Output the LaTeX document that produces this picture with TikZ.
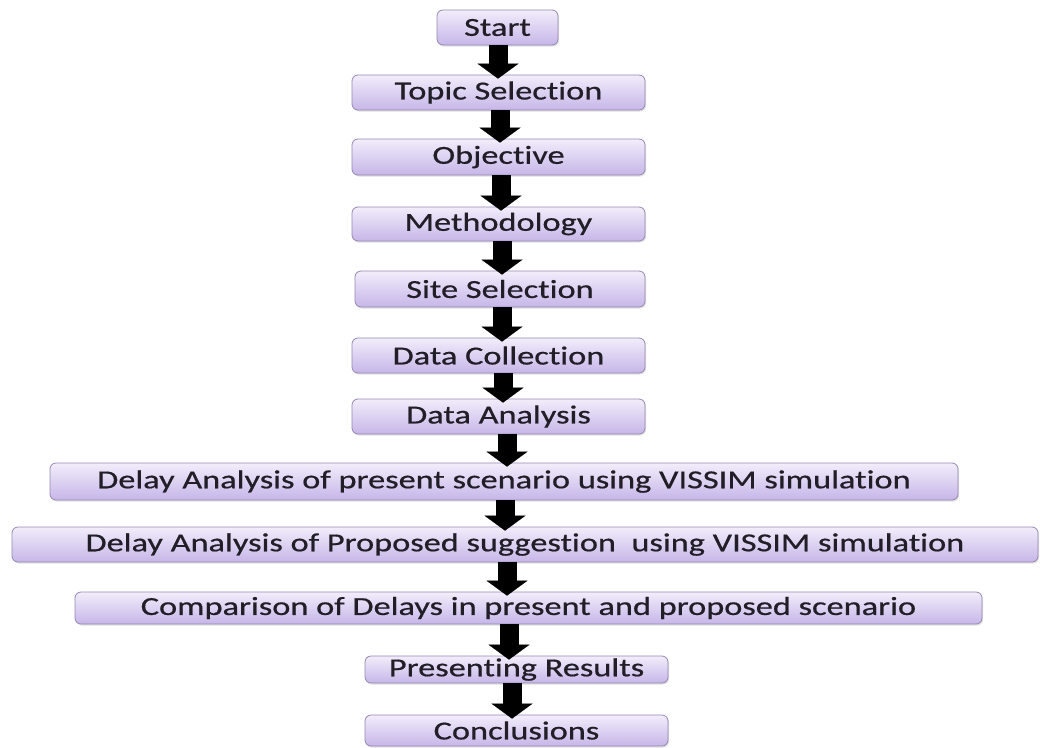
\documentclass[tikz,border=0pt]{standalone}
\usepackage{fontspec}
\setmainfont{Carlito}[FakeStretch=1.32,FakeBold=0.6,Ligatures={NoCommon}]
\usetikzlibrary{arrows.meta,shadows}

\definecolor{boxtop}{RGB}{242,237,251}
\definecolor{boxbot}{RGB}{198,182,232}
\definecolor{boxline}{RGB}{150,136,178}
\definecolor{boxtext}{RGB}{34,30,40}

\begin{document}
\begin{tikzpicture}[
  x=1pt, y=-1pt,
  every node/.style={font=\fontsize{26}{30}\selectfont, text=boxtext},
  stage/.style={rectangle,draw=boxline,line width=0.8pt,rounded corners=6pt,
    top color=boxtop,bottom color=boxbot,minimum width=293pt,minimum height=35pt,inner sep=0pt,
    drop shadow={opacity=0.25,shadow xshift=1pt,shadow yshift=-1.5pt}},
  wide/.style={stage,minimum width=908pt},
  flow/.style={line width=19pt,-{Triangle[width=41pt,length=15pt,line width=0.1pt]},shorten >=-4pt}
]
\useasboundingbox (0,0) rectangle (1040,747);

% Steps
\node[stage, minimum width=121pt] (start) at (497.5,27.5) {Start};
\node[stage] (topic) at (498.5,92.5) {Topic Selection};
\node[stage, minimum height=36pt] (obj) at (498.5,157) {Objective};
\node[stage, minimum height=34pt] (meth) at (498.5,224) {Methodology};
\node[stage, minimum width=290pt, minimum height=36pt] (site) at (500,289) {Site Selection};
\node[stage] (collect) at (498.5,355.5) {Data Collection};
\node[stage] (analysis) at (498.5,416.5) {Data Analysis};
\node[wide, minimum height=37pt] (present) at (504,481.5) {Delay Analysis of present scenario using VISSIM simulation};
\node[wide, minimum width=1026pt] (proposed) at (525,544.5) {Delay Analysis of Proposed suggestion~ using VISSIM simulation};
\node[wide, minimum width=907pt, minimum height=32pt] (compare) at (528.5,608) {Comparison of Delays in present and proposed scenario};
\node[stage, minimum width=303pt, minimum height=27pt] (results) at (516.5,669.5) {Presenting Results};
\node[stage, minimum width=303pt, minimum height=31pt] (concl) at (516.5,730.5) {Conclusions};

% Arrows
\draw[flow] ([xshift=0.5pt]start.south) -- ([xshift=-0.5pt]topic.north);
\draw[flow] ([xshift=1.5pt]topic.south) -- ([xshift=1.5pt]obj.north);
\draw[flow] ([xshift=2.5pt]obj.south) -- ([xshift=2.5pt]meth.north);
\draw[flow] ([xshift=3.5pt]meth.south) -- ([xshift=2pt]site.north);
\draw[flow] ([xshift=2pt]site.south) -- ([xshift=3.5pt]collect.north);
\draw[flow] ([xshift=4.5pt]collect.south) -- ([xshift=4.5pt]analysis.north);
\draw[flow] ([xshift=8.5pt]analysis.south) -- ([xshift=3pt]present.north);
\draw[flow] ([xshift=1pt]present.south) -- ([xshift=-20pt]proposed.north);
\draw[flow] ([xshift=-18pt]proposed.south) -- ([xshift=-21.5pt]compare.north);
\draw[flow] ([xshift=-19.5pt]compare.south) -- ([xshift=-7.5pt]results.north);
\draw[flow] ([xshift=-4.5pt]results.south) -- ([xshift=-4.5pt]concl.north);
\end{tikzpicture}
\end{document}
